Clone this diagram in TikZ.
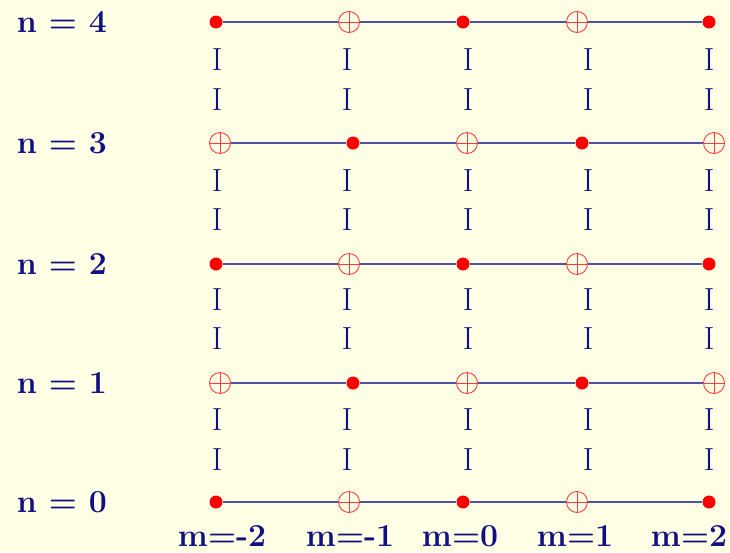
\documentclass[tikz,border=0pt]{standalone}
\usepackage{fontspec}
\definecolor{bg}{RGB}{255,255,230}
\definecolor{navyt}{RGB}{16,16,128}
\definecolor{linec}{RGB}{80,80,165}
\definecolor{dotred}{RGB}{255,0,0}
\definecolor{opred}{RGB}{255,60,60}
\begin{document}
\begin{tikzpicture}[x=1pt,y=-1pt,
  dotnode/.style={circle,fill=dotred,inner sep=0pt,minimum size=13pt},
  opnode/.style={circle,draw=opred,line width=0.9pt,inner sep=0pt,minimum size=21pt,
    path picture={\draw[opred,line width=0.9pt]
      (path picture bounding box.north) -- (path picture bounding box.south)
      (path picture bounding box.west) -- (path picture bounding box.east);}},
  hline/.style={draw=linec,line width=1.6pt},
  lbl/.style={text=navyt,inner sep=0pt,font=\fontsize{32}{38}\selectfont\bfseries},
  barlbl/.style={text=navyt,inner sep=0pt,font=\fontsize{32}{38}\selectfont}]
\fill[bg] (0,0) rectangle (730,552);
\useasboundingbox (0,0) rectangle (730,552);

% row labels
\node[lbl] (n4) at (62,22) {n = 4};
\node[lbl] (n3) at (62,143) {n = 3};
\node[lbl] (n2) at (62,264) {n = 2};
\node[lbl] (n1) at (62,383) {n = 1};
\node[lbl] (n0) at (62,502) {n = 0};

% even rows: dot, oplus, dot, oplus, dot
\foreach \r/\y in {4/22,2/264,0/502}{
  \node[dotnode] (r\r a) at (216,\y) {};
  \node[opnode]  (r\r b) at (349,\y) {};
  \node[dotnode] (r\r c) at (463,\y) {};
  \node[opnode]  (r\r d) at (577,\y) {};
  \node[dotnode] (r\r e) at (709,\y) {};
}
% odd rows: oplus, dot, oplus, dot, oplus
\foreach \r/\y in {3/143,1/383}{
  \node[opnode]  (r\r a) at (220,\y) {};
  \node[dotnode] (r\r b) at (353,\y) {};
  \node[opnode]  (r\r c) at (467,\y) {};
  \node[dotnode] (r\r d) at (582,\y) {};
  \node[opnode]  (r\r e) at (714,\y) {};
}
\foreach \r in {0,1,2,3,4}{
  \draw[hline] (r\r a) -- (r\r b);
  \draw[hline] (r\r b) -- (r\r c);
  \draw[hline] (r\r c) -- (r\r d);
  \draw[hline] (r\r d) -- (r\r e);
}

% vertical I marks
\foreach \k/\y in {1/60,2/100,3/181,4/220,5/300,6/339,7/420,8/460}{
  \node[barlbl] (ia\k) at (217,\y) {I};
  \node[barlbl] (ib\k) at (347,\y) {I};
  \node[barlbl] (ic\k) at (468,\y) {I};
  \node[barlbl] (id\k) at (588,\y) {I};
  \node[barlbl] (ie\k) at (709,\y) {I};
}

% m labels
\node[lbl,anchor=base] (m1) at (222,546) {m=-2};
\node[lbl,anchor=base] (m2) at (350,546) {m=-1};
\node[lbl,anchor=base] (m3) at (460,546) {m=0};
\node[lbl,anchor=base] (m4) at (575,546) {m=1};
\node[lbl,anchor=base] (m5) at (689,546) {m=2};
\end{tikzpicture}
\end{document}
